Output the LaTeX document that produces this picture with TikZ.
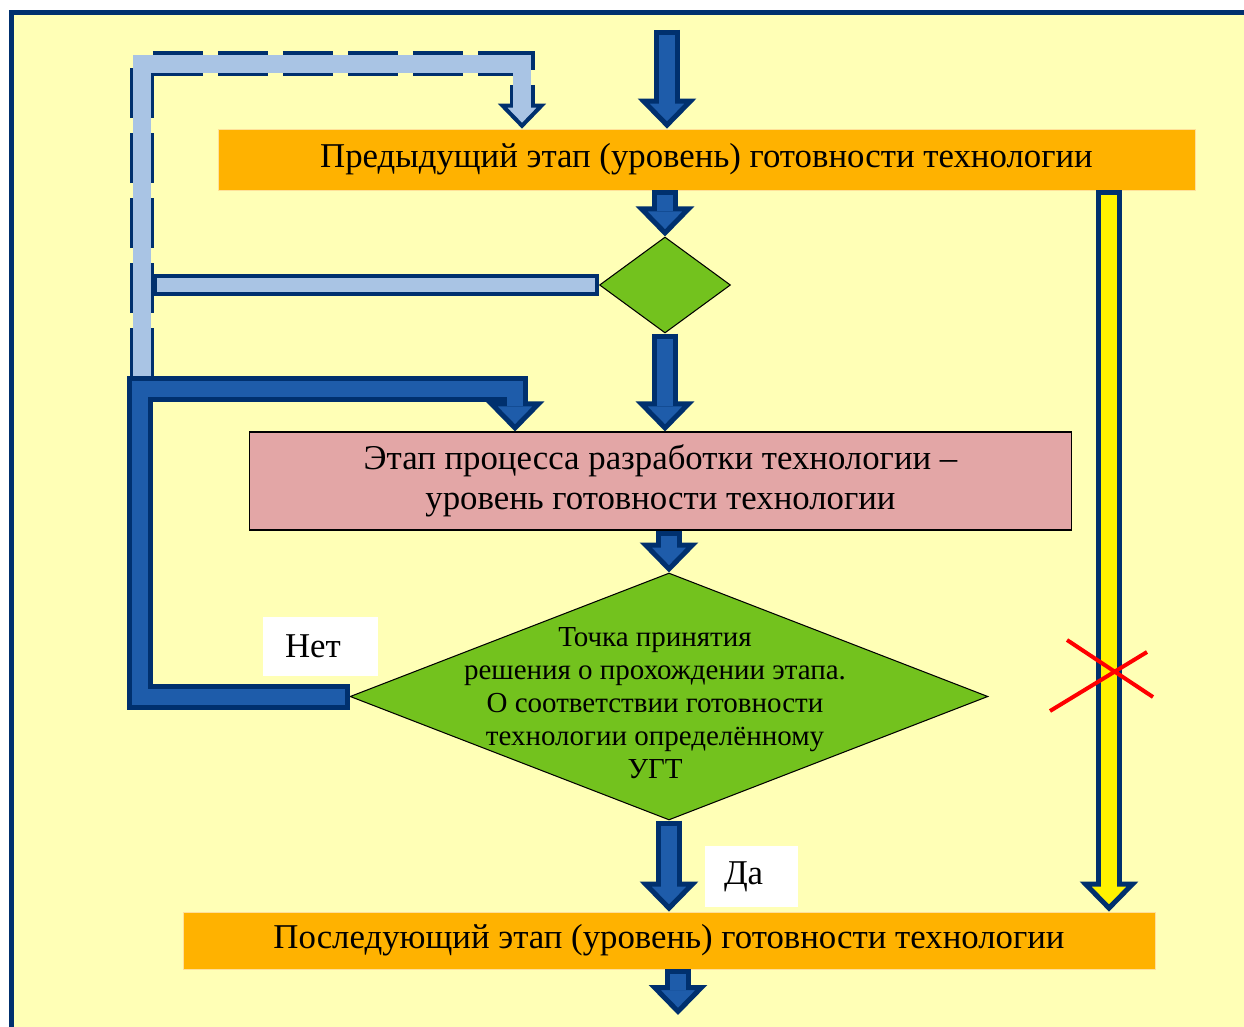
\documentclass[tikz,border=0pt]{standalone}
\usepackage{fontspec}
\setmainfont{Liberation Serif}
\usepackage{tikz}
\usepackage{xcolor}
\usetikzlibrary{shapes.geometric, arrows.meta, positioning}
\definecolor{paper}{RGB}{255,255,182}
\definecolor{navy}{RGB}{0,48,110}
\definecolor{flowblue}{RGB}{30,92,170}
\definecolor{paleblue}{RGB}{169,196,228}
\definecolor{amber}{RGB}{255,178,0}
\definecolor{leaf}{RGB}{115,194,30}
\definecolor{rose}{RGB}{227,166,166}
\tikzstyle{stagebox} = [rectangle, 
inner sep=0pt, 
text centered, 
align=center]
\tikzstyle{decision} = [diamond, draw=black, fill=leaf, line width=0.6pt, inner sep=0pt]
\tikzstyle{tag} = [rectangle, fill=white, inner ysep=0pt, align=left]

\begin{document}
\begin{tikzpicture}[
        x=0.02cm, y=-0.02cm,
        font=\fontsize{19.8}{22.5}\selectfont,
        flow/.style={draw=navy, line width=0.52cm, line join=miter,
            -{Triangle[length=0.6cm, width=1.15cm, line width=0.1cm, fill=#1]},
            postaction={draw=#1, line width=0.32cm, -, shorten <=0.1cm, shorten >=0.5cm}},
        backflow/.style={draw=navy, line width=0.5cm, line join=miter, dash pattern=on 1cm off 0.3cm,
            -{Triangle[length=0.5cm, width=0.95cm, line width=0.08cm, fill=paleblue]},
            postaction={draw=paleblue, solid, line width=0.36cm, -, shorten >=0.42cm}},
        bar/.style={draw=navy, line width=0.46cm,
            postaction={draw=paleblue, line width=0.3cm, shorten <=0.08cm, shorten >=0.08cm}},
    ]
        \useasboundingbox (0,0) rectangle (1244,1027);
        \fill[white] (0,0) rectangle (1244,1027);
        \draw[draw=navy, fill=paper, line width=0.1cm] (11.5,12.5) rectangle (1260,1040);

        % boxes
        \node[stagebox, fill=amber, draw=amber!40!white, line width=0.4pt, minimum width=19.54cm, minimum height=1.22cm] (prev) at (706.5,159.5) {Предыдущий этап (уровень) готовности технологии};
        \node[decision, minimum width=2.62cm, minimum height=1.92cm] (q1) at (665,285) {};
        \node[stagebox, draw=black, fill=rose, line width=0.6pt, minimum width=16.46cm, minimum height=1.96cm] (stage) at (660.5,481) {Этап процесса разработки технологии –\\уровень готовности технологии};
        \node[decision, minimum width=12.76cm, minimum height=4.94cm] (q2) at (669,696.5) {};
        \node[align=center, font=\fontsize{16.5}{18.8}\selectfont] (q2text) at (655,703) {Точка принятия\\решения о прохождении этапа.\\О соответствии готовности\\технологии определённому\\УГТ};
        \node[stagebox, fill=amber, draw=amber!40!white, line width=0.4pt, minimum width=19.44cm, minimum height=1.14cm] (next) at (669,940.5) {Последующий этап (уровень) готовности технологии};
        \node[tag, inner xsep=0.44cm, text width=1.42cm, minimum height=1.18cm] (no) at (320.5,646.5) {Нет};
        \node[tag, inner xsep=0.38cm, text width=1.1cm, minimum height=1.22cm] (yes) at (751.5,876.5) {Да};

        \coordinate (entry) at (667,30);
        \coordinate (exit) at (678,1015);
        \coordinate (noturn) at (140,389);
        \coordinate (nodrop) at (515,389);
        \coordinate (backturn) at (142,378);
        \coordinate (backtop) at (142,64);
        \coordinate (backdrop) at (522,64);
        \coordinate (q1join) at (153,287);
        \coordinate (skip) at (1109,0);

        % loops on the left
        \draw[backflow] (backturn) -- (backtop) -- (backdrop) -- (backdrop |- prev.north);
        \draw[bar] (q1.west) -- (q1.west -| q1join);
        \draw[flow=flowblue] (q2.west) -| (noturn) -- (nodrop) -- (nodrop |- stage.north);

        % main line
        \draw[flow=flowblue] (entry) -- (entry |- prev.north);
        \draw[flow=flowblue] (q1.north |- prev.south) -- (q1.north);
        \draw[flow=flowblue] (q1.south) -- (q1.south |- stage.north);
        \draw[flow=flowblue] (q2.north |- stage.south) -- (q2.north);
        \draw[flow=flowblue] (q2.south) -- (q2.south |- next.north);
        \draw[flow=flowblue] (exit |- next.south) -- (exit);

        % skipped stage
        \draw[flow=yellow] (skip |- prev.south) -- (skip |- next.north);
        \draw[red, line width=0.08cm] (1067,640) -- (1153,697) (1050,711) -- (1147,652);
    \end{tikzpicture}
\end{document}
